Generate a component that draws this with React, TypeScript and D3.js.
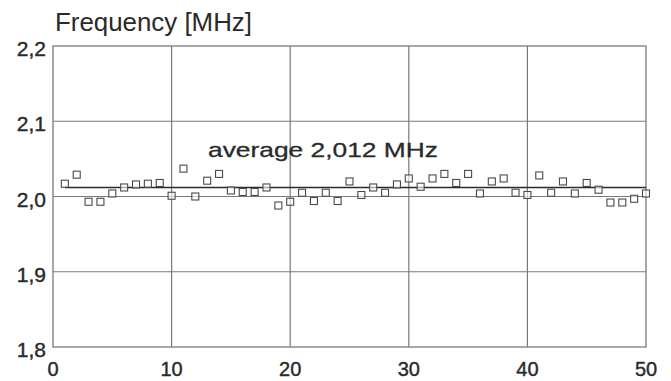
import React from "react";
import * as d3 from "d3";

const samples = [
  1, 2, 3, 4, 5, 6, 7, 8, 9, 10, 11, 12, 13, 14, 15, 16, 17, 18, 19, 20, 21, 22, 23, 24, 25,
  26, 27, 28, 29, 30, 31, 32, 33, 34, 35, 36, 37, 38, 39, 40, 41, 42, 43, 44, 45, 46, 47, 48, 49, 50,
];
const frequency = [
  2.017, 2.029, 1.993, 1.993, 2.004, 2.012, 2.016, 2.017, 2.018, 2.001,
  2.037, 2.0, 2.021, 2.03, 2.008, 2.006, 2.006, 2.012, 1.988, 1.993,
  2.005, 1.994, 2.005, 1.994, 2.02, 2.002, 2.012, 2.005, 2.016, 2.024,
  2.013, 2.024, 2.03, 2.018, 2.03, 2.004, 2.02, 2.024, 2.005, 2.002,
  2.028, 2.005, 2.02, 2.004, 2.018, 2.009, 1.992, 1.992, 1.997, 2.004,
];
const average = 2.012;
const xTicks = [0, 10, 20, 30, 40, 50];
const yTicks = [1.8, 1.9, 2.0, 2.1, 2.2];
const yTickLabels = ["1,8", "1,9", "2,0", "2,1", "2,2"];
const titleText = "Frequency [MHz]";
const avgText = "average 2,012 MHz";

const W = 671;
const H = 381;
const left = 53;
const right = 646;
const top = 46;
const bottom = 347;
const font = "'Liberation Sans', Arial, Helvetica, sans-serif";

export default function App() {
  const x = d3.scaleLinear().domain([0, 50]).range([left, right]);
  const y = d3.scaleLinear().domain([1.8, 2.2]).range([bottom, top]);
  const ms = 7;
  return (
    <svg
      width={W}
      height={H}
      style={{ position: "absolute", left: 0, top: 0, background: "#fff" }}
    >
      {xTicks.slice(1, -1).map((t) => (
        <line key={"gx" + t} x1={x(t)} x2={x(t)} y1={top} y2={bottom} stroke="#7a7a7a" strokeWidth={1.2} />
      ))}
      {yTicks.slice(1, -1).map((t) => (
        <line key={"gy" + t} x1={left} x2={right} y1={y(t)} y2={y(t)} stroke="#7a7a7a" strokeWidth={1.2} />
      ))}
      <rect x={left} y={top} width={right - left} height={bottom - top} fill="none" stroke="#7a7a7a" strokeWidth={1.3} />
      <line x1={x(1)} x2={x(50)} y1={y(average)} y2={y(average)} stroke="#2a2a2a" strokeWidth={1.6} />
      {frequency.map((v, i) => (
        <rect
          key={"m" + i}
          x={x(samples[i]) - ms / 2}
          y={y(v) - ms / 2}
          width={ms}
          height={ms}
          fill="#fff"
          fillOpacity={0.6}
          stroke="#4a4a4a"
          strokeWidth={1.1}
        />
      ))}
      {yTicks.map((t, i) => (
        <text key={"yl" + t} x={46} y={y(t) + 10} textAnchor="end" fontFamily={font} fontSize={21}
          fill="#2a2a2a" stroke="#2a2a2a" strokeWidth={0.4}>
          {yTickLabels[i]}
        </text>
      ))}
      {xTicks.map((t) => (
        <text key={"xl" + t} x={x(t)} y={376} textAnchor="middle" fontFamily={font} fontSize={20}
          fill="#2a2a2a" stroke="#2a2a2a" strokeWidth={0.4}>
          {t}
        </text>
      ))}
      <text x={55} y={31} fontFamily={font} fontSize={25} fill="#2a2a2a" textLength={197} lengthAdjust="spacingAndGlyphs">
        {titleText}
      </text>
      <text x={208} y={157} fontFamily={font} fontSize={21} fill="#2a2a2a" stroke="#2a2a2a" strokeWidth={0.3}
        textLength={230} lengthAdjust="spacingAndGlyphs">
        {avgText}
      </text>
    </svg>
  );
}
